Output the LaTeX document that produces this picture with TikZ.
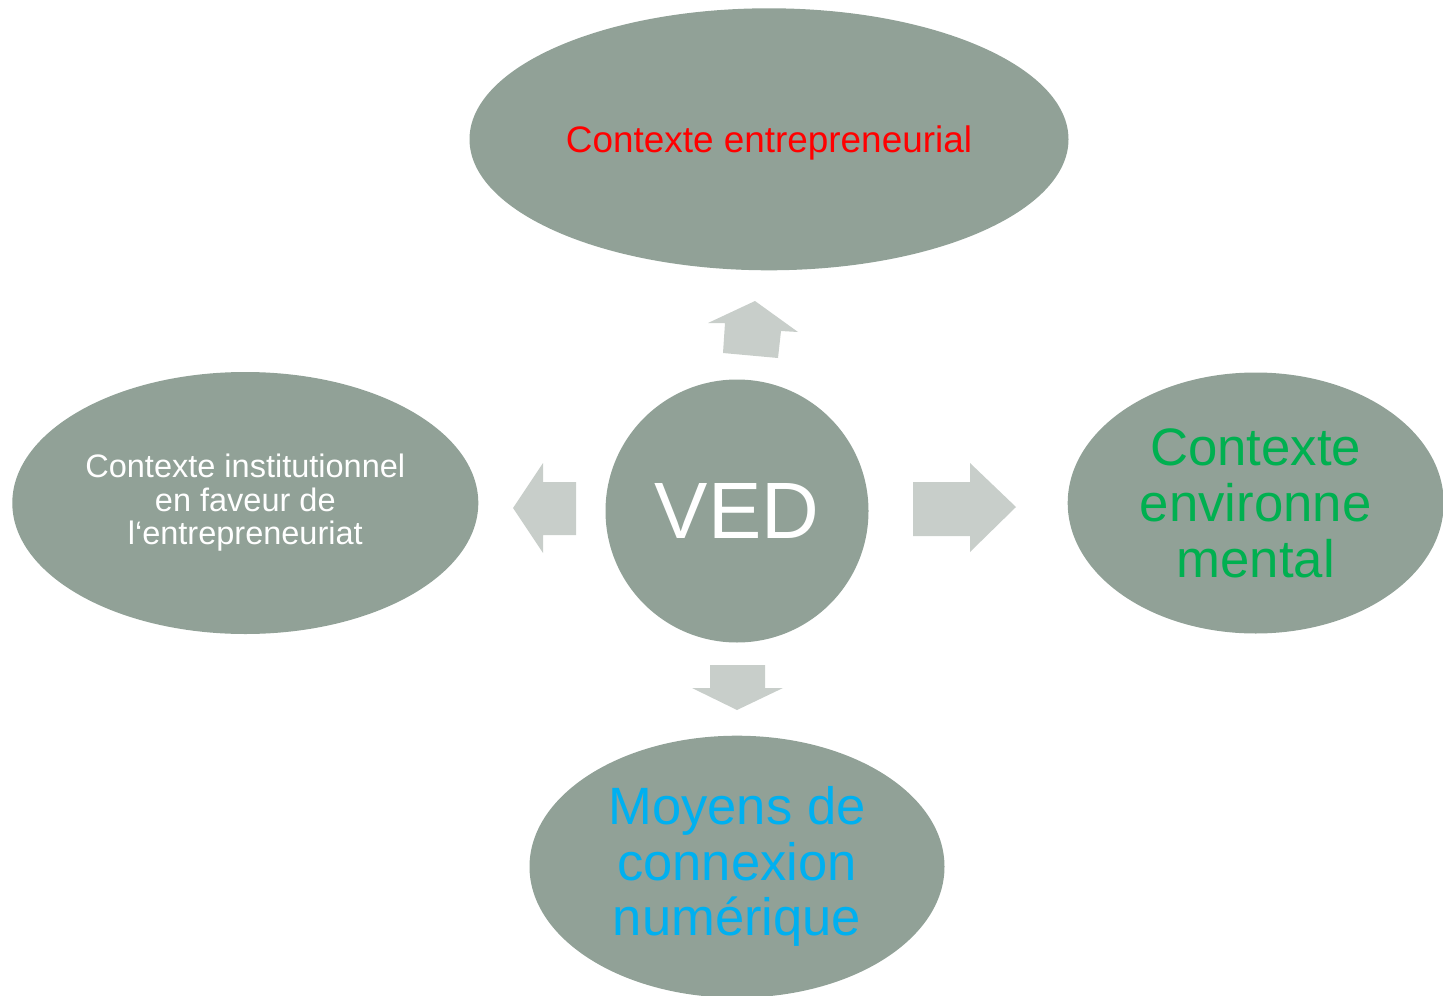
\documentclass[tikz,border=0pt]{standalone}
\usepackage{fontspec}
\setmainfont{Liberation Sans}
\usetikzlibrary{shapes,positioning}
\usepackage{xcolor}
\definecolor{sage}{RGB}{145,161,151}
\definecolor{pale}{RGB}{200,206,202}
\definecolor{ctxred}{RGB}{255,0,0}
\definecolor{ctxgreen}{RGB}{0,176,80}
\definecolor{ctxblue}{RGB}{0,176,240}

\begin{document}
\begin{tikzpicture}
\tikzstyle{ctx}=[ellipse, fill=sage, inner sep=0pt, align=center];
\tikzstyle{blk}=[fill=pale];
\useasboundingbox (0,0) rectangle (28.86,-19.92);
\begin{scope}
  \node (ved) at (14.74,-10.22) [ctx, circle, minimum size=5.26cm, text=white,
    font=\fontsize{45.5}{48}\selectfont]{VED};
  \node (entre) [above=2.17cm of ved, xshift=0.64cm, ctx, minimum width=11.98cm,
    minimum height=5.24cm, text=ctxred, text depth=0pt,
    font=\fontsize{21}{24}\selectfont]{Contexte entrepreneurial};
  \node (instit) [left=2.53cm of ved, yshift=0.16cm, ctx, minimum width=9.32cm,
    minimum height=5.24cm, text=white, font=\fontsize{18.5}{19.1}\selectfont]
    {Contexte institutionnel\\en faveur de\\l‘entrepreneuriat};
  \node (envir) [right=3.97cm of ved, yshift=0.16cm, ctx, minimum width=7.52cm,
    minimum height=5.22cm, text=ctxgreen, font=\fontsize{30}{31.9}\selectfont]
    {Contexte\\environne\\mental};
  \node (moyens) [below=1.85cm of ved, ctx, minimum width=8.3cm,
    minimum height=5.24cm, text=ctxblue, font=\fontsize{29.9}{31.6}\selectfont]
    {Moyens de\\connexion\\numérique};

  % block arrows
  \fill[blk] (14.46,-7.06) -- (14.50,-6.46) -- (14.16,-6.46) -- (15.10,-6.02)
    -- (15.96,-6.64) -- (15.62,-6.62) -- (15.56,-7.16) -- cycle;
  \fill[blk] (11.52,-9.64) -- (10.86,-9.64) -- (10.86,-9.26) -- (10.26,-10.16)
    -- (10.86,-11.06) -- (10.86,-10.70) -- (11.52,-10.70) -- cycle;
  \fill[blk] (18.26,-9.64) -- (19.40,-9.64) -- (19.40,-9.26) -- (20.32,-10.14)
    -- (19.40,-11.04) -- (19.40,-10.72) -- (18.26,-10.72) -- cycle;
  \fill[blk] (14.20,-13.30) -- (15.30,-13.30) -- (15.30,-13.76) -- (15.66,-13.76)
    -- (14.74,-14.20) -- (13.84,-13.76) -- (14.20,-13.76) -- cycle;
\end{scope}
\end{tikzpicture}
\end{document}
